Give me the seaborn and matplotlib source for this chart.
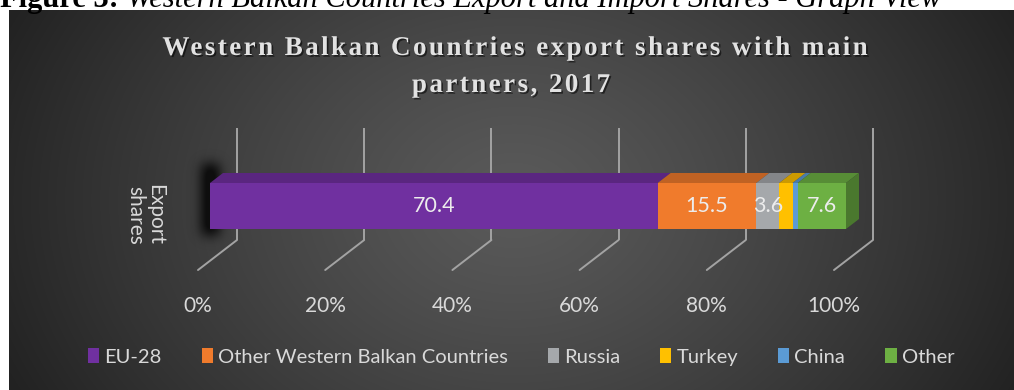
import numpy as np
import pandas as pd
import matplotlib
matplotlib.use("Agg")
import matplotlib.pyplot as plt
import matplotlib.transforms as mtransforms
from matplotlib import patheffects
from matplotlib.patches import Polygon, Patch
from matplotlib.font_manager import FontProperties
import seaborn as sns

# ---- data -------------------------------------------------------------
partners = ["EU-28", "Other Western Balkan Countries", "Russia", "Turkey", "China", "Other"]
shares = [70.4, 15.5, 3.6, 2.1, 0.8, 7.6]
colors = ["#7030A0", "#F07B2C", "#A5A8AB", "#FFC000", "#5B9BD5", "#6DB043"]
category = "Export shares"
ticks = [0, 20, 40, 60, 80, 100]
tick_labels = ["0%", "20%", "40%", "60%", "80%", "100%"]
title = ["Western Balkan Countries export shares with main", "partners, 2017"]
caption_bold = "Figure 3:"
caption_rest = " Western Balkan Countries Export and Import Shares - Graph View"

df = pd.DataFrame({"partner": partners, "share": shares, "color": colors})
df["end"] = df["share"].cumsum()
df["start"] = df["end"] - df["share"]

# ---- figure -----------------------------------------------------------
sns.set_theme(style="white")
FW, FH, DPI = 1014, 390, 100
fig = plt.figure(figsize=(FW / DPI, FH / DPI), dpi=DPI, facecolor="white")
ui_font = "Lato"
txt_col = "#d9d9d9"

# dark radial-gradient panel
bg = fig.add_axes([9 / FW, 0, 1005 / FW, 380 / FH], zorder=-2)
ny, nx = 380, 1005
yy, xx = np.mgrid[0:ny, 0:nx]
r = np.sqrt(((xx - 505) / 560.0) ** 2 + ((yy - 190) / 430.0) ** 2)
r = np.clip(r, 0, 1) ** 1.2
inner = np.array([0x5a, 0x5a, 0x5a]) / 255
outer = np.array([0x22, 0x22, 0x22]) / 255
bg.imshow(inner + (outer - inner) * r[..., None], aspect="auto",
          extent=(0, 1, 0, 1), origin="upper", interpolation="bilinear")
bg.set_axis_off()

# main axes: exactly the front face of the bar
ax = fig.add_axes([210 / FW, 161 / FH, 636 / FW, 46 / FH], zorder=1)
ax.patch.set_alpha(0)

# stacked bar: draw cumulative bars from the longest down
for _, row in df.iloc[::-1].iterrows():
    sns.barplot(x=[row["end"]], y=[category], orient="h", color=row["color"],
                saturation=1, width=0.8, linewidth=0, ax=ax)
for p in ax.patches:
    p.set_zorder(3)
    p.set_clip_on(False)
ax.set_xlim(0, 100)
ax.set_ylim(0.4, -0.4)
ax.set_axis_off()

def shade(c, f):
    rgb = np.array(matplotlib.colors.to_rgb(c))
    return tuple(rgb * f)

# pixel helpers built on the axes scale
pix_x = mtransforms.blended_transform_factory(ax.transData, mtransforms.IdentityTransform())
bb = ax.get_position()
y_top = bb.y1 * FH
y_bot = bb.y0 * FH
K = 0.77          # vertical rise per pixel of depth
BAR_D = 13        # bar depth (px)
WALL_D = 27       # back wall depth (px)
FLOOR_D = -12     # front edge of the floor (px)

def plane(y0):
    # (value, depth) -> display on a horizontal plane at height y0
    return pix_x + mtransforms.Affine2D(np.array([[1, 1, 0], [0, K, y0], [0, 0, 1]]))

# top faces
for _, row in df.iterrows():
    poly = Polygon([(row["start"], 0), (row["end"], 0), (row["end"], BAR_D), (row["start"], BAR_D)],
                   closed=True, facecolor=shade(row["color"], 0.8), edgecolor="none",
                   transform=plane(y_top), clip_on=False, zorder=3)
    ax.add_patch(poly)

# right end face
x_end = ax.transData.transform((df["end"].iloc[-1], 0))[0]
side_tr = mtransforms.Affine2D(np.array([[1, 0, x_end], [K, 1, 0], [0, 0, 1]]))
ax.add_patch(Polygon([(0, y_bot), (0, y_top), (BAR_D, y_top), (BAR_D, y_bot)], closed=True,
                     facecolor=shade(colors[-1], 0.68), edgecolor="none",
                     transform=side_tr, clip_on=False, zorder=3))

# gridlines: back wall verticals and floor diagonals
wall_bottom, wall_top = 150, 262
floor_y0 = wall_bottom - WALL_D * K
back = pix_x + mtransforms.Affine2D().translate(WALL_D, 0)
for v in ticks:
    ax.plot([v, v], [wall_bottom, wall_top], color="#a3a3a3", lw=1.4,
            transform=back, clip_on=False, zorder=1, solid_capstyle="butt")
    ax.plot([v, v], [WALL_D, FLOOR_D], color="#a3a3a3", lw=1.4,
            transform=plane(floor_y0), clip_on=False, zorder=1)

# value labels on the larger segments
for _, row in df.iterrows():
    if row["share"] >= 3:
        ax.text((row["start"] + row["end"]) / 2, 0, f"{row['share']:.1f}", ha="center", va="center",
                color="#ececec", fontsize=15.5, family=ui_font, zorder=5, clip_on=False)

# tick labels along the floor front edge
front = pix_x + mtransforms.Affine2D().translate(FLOOR_D, 0)
for v, lab in zip(ticks, tick_labels):
    ax.text(v, 84, lab, transform=front, ha="center", va="center", color=txt_col,
            fontsize=15, family=ui_font, clip_on=False)

# category label
fig.text(145 / FW, 175 / FH, "Export\nshares", rotation=270, ha="center", va="center",
         color=txt_col, fontsize=15, family=ui_font, linespacing=1.0)

# soft shadow at the bar's left end
sh_h, sh_w = 130, 70
sy, sx = np.mgrid[0:sh_h, 0:sh_w]
mask = ((sx >= 28) & (sx <= 44) & (sy >= 30) & (sy <= 100)).astype(float)
kern = np.exp(-0.5 * (np.arange(-20, 21) / 6.0) ** 2)
kern /= kern.sum()
mask = np.apply_along_axis(lambda m: np.convolve(m, kern, mode="same"), 0, mask)
mask = np.apply_along_axis(lambda m: np.convolve(m, kern, mode="same"), 1, mask)
shadow = np.zeros((sh_h, sh_w, 4))
shadow[..., 3] = np.clip(mask * 1.05, 0, 0.78)
fig.figimage(shadow, xo=174, yo=125, origin="lower", zorder=-1)

# title with letter spacing
renderer = fig.canvas.get_renderer()
tfp = FontProperties(family="Liberation Serif", weight="bold", size=19.5)

def tracked(s, xc, y_base, tracking):
    def w(t):
        return renderer.get_text_width_height_descent(t, tfp, ismath=False)[0]
    total = w(s) + tracking * (len(s) - 1)
    x0 = xc - total / 2
    for i, ch in enumerate(s):
        if ch == " ":
            continue
        left = w(s[:i + 1]) - w(ch) + i * tracking
        fig.text((x0 + left) / FW, y_base / FH, ch, fontproperties=tfp, color="#e2e2e2",
                 ha="left", va="baseline",
                 path_effects=[patheffects.withSimplePatchShadow(offset=(1.2, -1.2),
                                                                 shadow_rgbFace="black", alpha=0.55)])

tracked(title[0], 515, 335, 2.4)
tracked(title[1], 511, 298, 2.4)

# figure caption above the panel (cropped at the top edge)
cap_b = fig.text(0, (FH - 7) / FH, caption_bold, fontsize=22, family="Liberation Serif",
                 weight="bold", color="black", ha="left", va="baseline")
bw = renderer.get_text_width_height_descent(caption_bold, cap_b.get_fontproperties(), False)[0]
fig.text(bw / FW, (FH - 7) / FH, caption_rest, fontsize=22, family="Liberation Serif",
         style="italic", color="black", ha="left", va="baseline")

# legend
handles = [Patch(facecolor=c, edgecolor="none") for c in colors]
fig.legend(handles, partners, loc="center", bbox_to_anchor=(521 / FW, 33 / FH), ncol=6,
           frameon=False, handlelength=0.55, handleheight=0.75, handletextpad=0.25,
           columnspacing=2.0, prop=FontProperties(family=ui_font, size=14.5),
           labelcolor=txt_col)

fig.savefig("out.png", dpi=DPI, facecolor="white")
